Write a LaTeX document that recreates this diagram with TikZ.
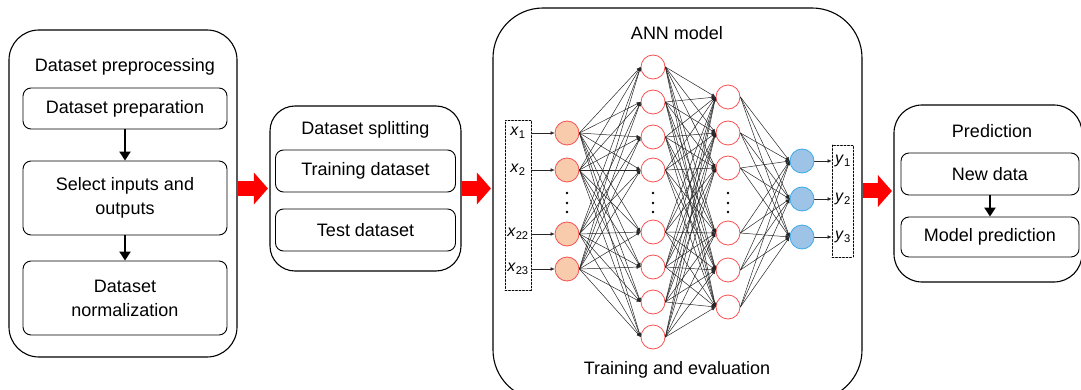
\documentclass[tikz,border=0pt]{standalone}
\usepackage{fontspec}
\setmainfont{Liberation Sans}
\usetikzlibrary{arrows.meta}
\begin{document}
\begin{tikzpicture}[yscale=-1, x=1pt, y=1pt, line join=round, line cap=round,
  font=\fontsize{18}{24}\selectfont,
  outerbox/.style={draw, line width=1.1pt, inner sep=0pt},
  innerbox/.style={draw, line width=0.9pt, rounded corners=8pt, inner sep=0pt, align=center},
  flow/.style={line width=2.6pt, line cap=butt, -{Triangle[length=9pt,width=11pt]}},
  bigarrow/.style={color=bigred, line width=15pt, line cap=butt, shorten >=1.5pt, -{Triangle[length=14pt,width=31pt]}},
  neuron/.style={circle, draw=nred, line width=0.8pt, minimum size=24pt, inner sep=0pt},
  link/.style={color=black!85, line width=0.5pt, -{Latex[length=4pt,width=3.6pt]}},
  dashbox/.style={draw, line width=0.6pt, dash pattern=on 2pt off 1.5pt, inner sep=0pt},
  varlabel/.style={font=\fontsize{16}{18}\selectfont, inner sep=0pt}]
% Colour definitions
\definecolor{bigred}{RGB}{255,0,0}
\definecolor{nred}{RGB}{250,80,80}
\definecolor{inorange}{RGB}{248,203,173}
\definecolor{outblue}{RGB}{157,195,230}
\definecolor{outline}{RGB}{60,170,235}
% End of colour definitions
\useasboundingbox (0,0) rectangle (1081,390);
% Dataset preprocessing
\node[outerbox, rounded corners=30pt, minimum width=228pt, minimum height=327pt] (pre) at (123,193.5) {};
\node (pretitle) at (125,67) {Dataset preprocessing};
\node[innerbox, minimum width=204pt, minimum height=41pt] (prep) at (125,108.5) {Dataset preparation};
\node[innerbox, minimum width=204pt, minimum height=74pt] (select) at (125,198) {Select inputs and\\outputs};
\node[innerbox, minimum width=204pt, minimum height=74pt] (norm) at (125,298) {Dataset\\normalization};
\draw[flow] (prep) -- (select);
\draw[flow] (select) -- (norm);
% Dataset splitting
\node[outerbox, rounded corners=25pt, minimum width=191pt, minimum height=165pt] (split) at (365.5,188.5) {};
\node (splittitle) at (365.5,130) {Dataset splitting};
\node[innerbox, minimum width=180pt, minimum height=42pt] (train) at (365.5,171) {Training dataset};
\node[innerbox, minimum width=180pt, minimum height=42pt] (test) at (365.5,230) {Test dataset};
% ANN model
\node[outerbox, rounded corners=50pt, minimum width=369pt, minimum height=392pt] (ann) at (677.5,204) {};
\node (anntitle) at (677,33) {ANN model};
\node (anneval) at (677,370) {Training and evaluation};
% Prediction
\node[outerbox, rounded corners=28pt, minimum width=188pt, minimum height=177pt] (pred) at (988,193.5) {};
\node (predtitle) at (992,131) {Prediction};
\node[innerbox, minimum width=178pt, minimum height=42pt] (newdata) at (990,174) {New data};
\node[innerbox, minimum width=178pt, minimum height=40pt] (model) at (990,237) {Model prediction};
\draw[flow] (newdata) -- (model);
% Red arrows between stages
\draw[bigarrow] (pre.east |- split) -- (split.west);
\draw[bigarrow] (split.east) -- (ann.west |- split);
\draw[bigarrow] (ann.east |- 0,191) -- (pred.west |- 0,191);
% Network layers
\foreach \y [count=\i] in {133,170,234,269}
  \node[neuron, fill=inorange] (i\i) at (567,\y) {};
\foreach \y [count=\i] in {67,102,137,170,232,267,302,337}
  \node[neuron, fill=white] (h\i) at (653,\y) {};
\foreach \y [count=\i] in {97,133,168,233,270,307}
  \node[neuron, fill=white] (g\i) at (728,\y) {};
\foreach \y [count=\i] in {161,199,237}
  \node[neuron, draw=outline, fill=outblue] (o\i) at (802,\y) {};
\foreach \x in {567,653,728}
  \foreach \y in {193,203,212}
    \fill (\x,\y) circle (1.4);
% Weights
\foreach \a in {1,...,4}
  \foreach \b in {1,...,8}
    \draw[link] (i\a.east) -- (h\b.west);
\foreach \a in {1,...,8}
  \foreach \b in {1,...,6}
    \draw[link] (h\a.east) -- (g\b.west);
\foreach \a in {1,...,6}
  \foreach \b in {1,...,3}
    \draw[link] (g\a.east) -- (o\b.west);
% Inputs and outputs
\node[dashbox, minimum width=26pt, minimum height=170pt] (inbox) at (518,205) {};
\foreach \y/\n [count=\i] in {133/1,170/2,234/22,269/23} {
  \node[varlabel] (xl\i) at (518,\y) {\textit{x}\textsubscript{\n}};
  \draw[link] (inbox.east |- i\i) -- (i\i.west);
}
\node[dashbox, minimum width=21pt, minimum height=112pt] (outbox) at (842.5,201) {};
\foreach \y [count=\i] in {161,199,237} {
  \node[varlabel] (yl\i) at (843,\y) {\textit{y}\textsubscript{\i}};
  \draw[link] (o\i.east) -- (outbox.west |- o\i);
}
\end{tikzpicture}
\end{document}
